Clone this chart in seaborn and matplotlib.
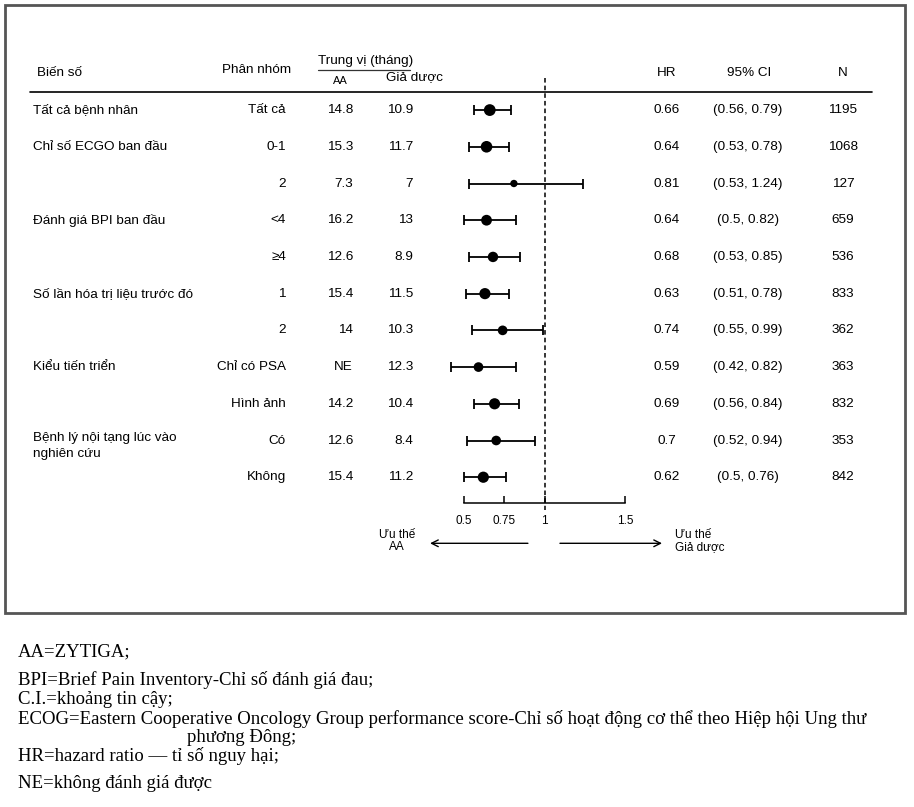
import numpy as np
import pandas as pd
import matplotlib
matplotlib.use("Agg")
import matplotlib.pyplot as plt
import matplotlib.transforms as mtransforms
from matplotlib.colors import LogNorm
from matplotlib.patches import Rectangle
from matplotlib.lines import Line2D
import seaborn as sns

# data
variables = ["Tất cả bệnh nhân", "Chỉ số ECGO ban đầu", "", "Đánh giá BPI ban đầu", "",
             "Số lần hóa trị liệu trước đó", "", "Kiểu tiến triển", "",
             "Bệnh lý nội tạng lúc vào\nnghiên cứu", ""]
subgroups = ["Tất cả", "0-1", "2", "<4", "≥4", "1", "2", "Chỉ có PSA", "Hình ảnh", "Có", "Không"]
median_aa = ["14.8", "15.3", "7.3", "16.2", "12.6", "15.4", "14", "NE", "14.2", "12.6", "15.4"]
median_pbo = ["10.9", "11.7", "7", "13", "8.9", "11.5", "10.3", "12.3", "10.4", "8.4", "11.2"]
hr = [0.66, 0.64, 0.81, 0.64, 0.68, 0.63, 0.74, 0.59, 0.69, 0.70, 0.62]
ci_low = [0.56, 0.53, 0.53, 0.50, 0.53, 0.51, 0.55, 0.42, 0.56, 0.52, 0.50]
ci_high = [0.79, 0.78, 1.24, 0.82, 0.85, 0.78, 0.99, 0.82, 0.84, 0.94, 0.76]
n_pat = [1195, 1068, 127, 659, 536, 833, 362, 363, 832, 353, 842]
xticks = [0.5, 0.75, 1, 1.5]
xticklabels = ["0.5", "0.75", "1", "1.5"]

footnotes = ["AA=ZYTIGA;",
             "BPI=Brief Pain Inventory-Chỉ số đánh giá đau;",
             "C.I.=khoảng tin cậy;",
             "ECOG=Eastern Cooperative Oncology Group performance score-Chỉ số hoạt động cơ thể theo Hiệp hội Ung thư",
             "phương Đông;",
             "HR=hazard ratio — tỉ số nguy hại;",
             "NE=không đánh giá được"]

df = pd.DataFrame({"row": np.arange(len(hr)), "hr": hr, "lo": ci_low, "hi": ci_high, "n": n_pat})

sns.set_theme(style="white")
plt.rcParams['font.family'] = ['Liberation Sans', 'DejaVu Sans']

W, H = 914, 807
fig = plt.figure(figsize=(W / 100, H / 100), dpi=100)

# forest axes: 0.5 -> 464px, 1.5 -> 625px ; rows start at 110px, 36.7px apart
ax_l, ax_r = 420, 680
ax_t, ax_b = 55, 569
ax = fig.add_axes([ax_l / W, 1 - ax_b / H, (ax_r - ax_l) / W, (ax_b - ax_t) / H])
ax.set_xlim(0.5 + (ax_l - 464) / 161, 0.5 + (ax_r - 464) / 161)
ax.set_ylim(12.5, -1.5)
ax.patch.set_alpha(0)

ax.errorbar(df["hr"], df["row"], xerr=[df["hr"] - df["lo"], df["hi"] - df["hr"]],
            fmt="none", ecolor="black", elinewidth=1.3, capsize=3.6, capthick=1.3, zorder=2)
sns.scatterplot(data=df, x="hr", y="row", size="n", sizes=(28, 72),
                size_norm=LogNorm(min(n_pat), max(n_pat)), color="black",
                edgecolor="black", linewidth=0, legend=False, ax=ax, zorder=3)
ax.vlines(1, -0.87, 10.9, colors="black", linestyles=(0, (3, 2)), linewidth=1.1)

for s in ["top", "left", "right"]:
    ax.spines[s].set_visible(False)
ax.spines["bottom"].set_position(("data", 10.71))
ax.spines["bottom"].set_bounds(0.5, 1.5)
ax.spines["bottom"].set_color("black")
ax.spines["bottom"].set_linewidth(1.1)
ax.set_xticks(xticks)
ax.set_xticklabels(xticklabels)
ax.set_yticks([])
ax.set_xlabel("")
ax.set_ylabel("")
ax.tick_params(axis="x", direction="in", length=5, width=1.1, pad=8.5, labelsize=8.5,
               colors="black", bottom=True)

# favour arrows
arr = dict(arrowstyle="->", color="black", lw=1.0, shrinkA=0, shrinkB=0)
ax.annotate("", xy=(0.289, 11.8), xytext=(0.897, 11.8), arrowprops=arr, annotation_clip=False)
ax.annotate("", xy=(1.73, 11.8), xytext=(1.096, 11.8), arrowprops=arr, annotation_clip=False)

tr = mtransforms.blended_transform_factory(fig.transFigure, ax.transData)
fs = 9.7


def put(xpx, y, s, ha="left", size=fs, va="center", **kw):
    ax.text(xpx / W, y, s, transform=tr, ha=ha, va=va, fontsize=size, color="black",
            clip_on=False, **kw)


put(397, 11.75, "Ưu thế\nAA", ha="center", size=8.5, linespacing=1.0)
put(675, 11.75, "Ưu thế\nGiả dược", size=8.5, linespacing=1.0)

# header
put(37, -1.0, "Biến số")
put(222, -1.1, "Phân nhóm")
put(318, -1.35, "Trung vị (tháng)")
put(340, -0.78, "AA", ha="center", size=8)
put(386, -0.9, "Giả dược")
put(667, -1.0, "HR", ha="center")
put(749, -1.0, "95% CI", ha="center")
put(843, -1.0, "N", ha="center")
ax.add_line(Line2D([318 / W, 410 / W], [-1.08, -1.08], transform=tr, color="#333333",
                   lw=0.9, clip_on=False))
ax.add_line(Line2D([30 / W, 872 / W], [-0.5, -0.5], transform=tr, color="black",
                   lw=1.2, clip_on=False))

# table rows
for i in range(len(hr)):
    if variables[i]:
        if "\n" in variables[i]:
            put(33, i - 0.22, variables[i], va="top", linespacing=1.35)
        else:
            put(33, i, variables[i])
    put(286, i, subgroups[i], ha="right")
    put(353, i, median_aa[i], ha="right")
    put(413, i, median_pbo[i], ha="right")
    put(667, i, f"{hr[i]:g}", ha="center")
    put(748, i, f"({ci_low[i]:g}, {ci_high[i]:g})", ha="center")
    put(843, i, str(n_pat[i]), ha="center")

# frame around the chart
fig.add_artist(Rectangle((5 / W, 1 - 613 / H), 900 / W, 608 / H, transform=fig.transFigure,
                         fill=False, edgecolor="#555555", lw=2))

# footnotes
foot_y = [652, 680, 699, 719, 737, 756, 783]
foot_x = [18, 18, 18, 18, 187, 18, 18]
for s, xp, yp in zip(footnotes, foot_x, foot_y):
    fig.text(xp / W, 1 - yp / H, s, ha="left", va="center", fontsize=13.5,
             family=["Liberation Serif", "DejaVu Serif"], color="black")

fig.savefig("out.png", dpi=100)
